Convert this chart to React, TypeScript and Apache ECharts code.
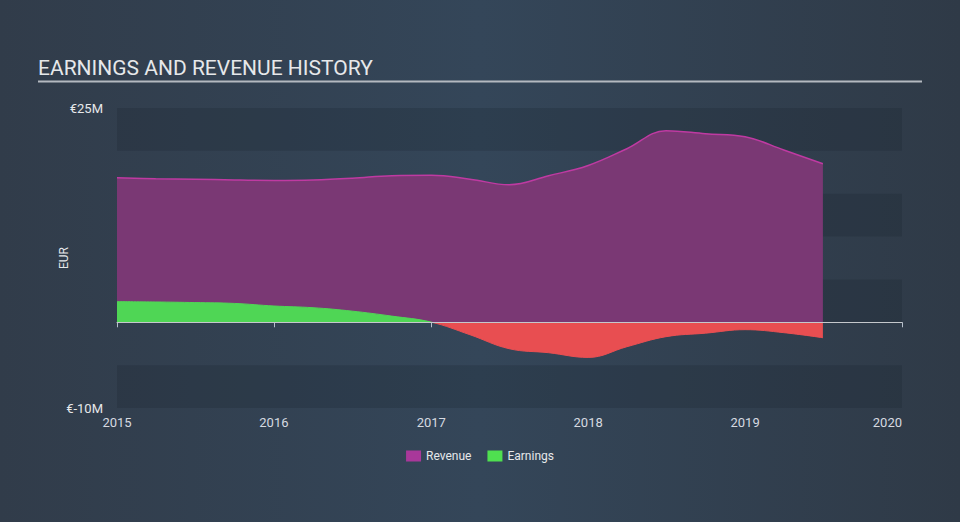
import React, { useEffect, useRef } from "react";
import * as echarts from "echarts";

const dates = [
  "2015-01-01", "2015-04-01", "2015-07-01", "2015-10-01",
  "2016-01-01", "2016-04-01", "2016-07-01", "2016-10-01",
  "2017-01-01", "2017-04-01", "2017-07-01", "2017-10-01",
  "2018-01-01", "2018-04-01", "2018-07-01", "2018-10-01",
  "2019-01-01", "2019-04-01", "2019-07-01",
];
const revenue = [
  16.87, 16.75, 16.7, 16.6, 16.55, 16.6, 16.8, 17.1, 17.15, 16.7, 16.05, 17.1,
  18.3, 20.25, 22.35, 22.0, 21.65, 20.1, 18.5,
];
const earnings = [
  2.41, 2.37, 2.3, 2.2, 1.9, 1.7, 1.3, 0.72, 0.02, -1.45, -3.08, -3.55,
  -4.1, -2.85, -1.68, -1.27, -0.86, -1.21, -1.8,
];
const yMin = -10e6;
const yMax = 25e6;
const yStep = 5e6;
const xMin = "2015-01-01";
const xMax = "2020-01-01";
const legendNames = ["Revenue", "Earnings"];

export default function App() {
  const ref = useRef<HTMLDivElement>(null);
  useEffect(() => {
    document.body.style.margin = "0";
    const chart = echarts.init(ref.current!, null, { renderer: "svg" });
    const revData = dates.map((d, i) => [d, revenue[i] * 1e6]);
    const earnData = dates.map((d, i) => [d, earnings[i] * 1e6]);
    chart.setOption({
      animation: false,
      backgroundColor: {
        type: "linear",
        x: 0, y: 0, x2: 1, y2: 0,
        colorStops: [
          { offset: 0, color: "#313c4a" },
          { offset: 0.5, color: "#344659" },
          { offset: 1, color: "#2f3a47" },
        ],
      },
      title: {
        text: "EARNINGS AND REVENUE HISTORY",
        left: 38,
        top: 57,
        padding: 0,
        textStyle: {
          color: "#e6e8ea",
          fontFamily: "Roboto",
          fontWeight: "normal",
          fontSize: 21,
        },
      },
      graphic: [
        {
          type: "line",
          shape: { x1: 38, y1: 81.5, x2: 922, y2: 81.5 },
          style: { stroke: "#b4b9c0", lineWidth: 2 },
        },
      ],
      legend: {
        data: legendNames,
        bottom: 55,
        left: "center",
        itemWidth: 15,
        itemHeight: 11,
        itemGap: 16,
        icon: "rect",
        textStyle: { color: "#e6e8ea", fontFamily: "Roboto", fontSize: 12 },
      },
      grid: { left: 117, right: 58, top: 108, bottom: 114 },
      xAxis: {
        type: "time",
        min: xMin,
        max: xMax,
        splitNumber: 5,
        axisLine: { lineStyle: { color: "#b7c0cc", width: 1 } },
        axisTick: { show: true, length: 5, lineStyle: { color: "#b7c0cc" } },
        axisLabel: {
          color: "#d6dae0",
          fontFamily: "Roboto",
          fontSize: 13,
          margin: 8,
          showMaxLabel: true,
          alignMaxLabel: "right",
          formatter: (v: number) => String(new Date(v).getFullYear()),
        },
        splitLine: { show: false },
      },
      yAxis: {
        type: "value",
        min: yMin,
        max: yMax,
        interval: yStep,
        name: "EUR",
        nameLocation: "middle",
        nameGap: 47,
        nameMoveOverlap: false,
        nameTextStyle: { color: "#e6e8ea", fontFamily: "Roboto", fontSize: 12 },
        axisLine: { show: false },
        axisTick: { show: false },
        splitLine: { show: false },
        splitArea: {
          show: true,
          areaStyle: { color: ["rgba(20,30,40,0.2)", "rgba(0,0,0,0)"] },
        },
        axisLabel: {
          color: "#e6e8ea",
          fontFamily: "Roboto",
          fontSize: 13,
          margin: 14,
          formatter: (v: number) =>
            v === yMax || v === yMin ? "€" + v / 1e6 + "M" : "",
        },
      },
      visualMap: {
        show: false,
        type: "piecewise",
        seriesIndex: 1,
        dimension: 1,
        pieces: [
          { gt: 0, lte: yMax, color: "#4fd655" },
          { gte: yMin, lte: 0, color: "#e84e51" },
        ],
      },
      series: [
        {
          name: "Revenue",
          type: "line",
          data: revData,
          smooth: 0.4,
          showSymbol: false,
          color: "#a8389a",
          lineStyle: { color: "#bf3aa2", width: 1.5 },
          areaStyle: { color: "#7a3874", opacity: 1 },
          z: 2,
        },
        {
          name: "Earnings",
          type: "line",
          data: earnData,
          smooth: 0.4,
          showSymbol: false,
          color: "#4fe050",
          itemStyle: { color: "#4fe050" },
          lineStyle: { width: 1 },
          areaStyle: { opacity: 1 },
          z: 3,
          markLine: {
            silent: true,
            symbol: "none",
            label: { show: false },
            lineStyle: { color: "#c5c8cc", width: 1.2, type: "solid" },
            data: [{ yAxis: 0 }],
          },
        },
      ],
    });
    return () => chart.dispose();
  }, []);
  return (
    <div
      ref={ref}
      style={{ position: "absolute", left: 0, top: 0, width: 960, height: 522 }}
    />
  );
}
